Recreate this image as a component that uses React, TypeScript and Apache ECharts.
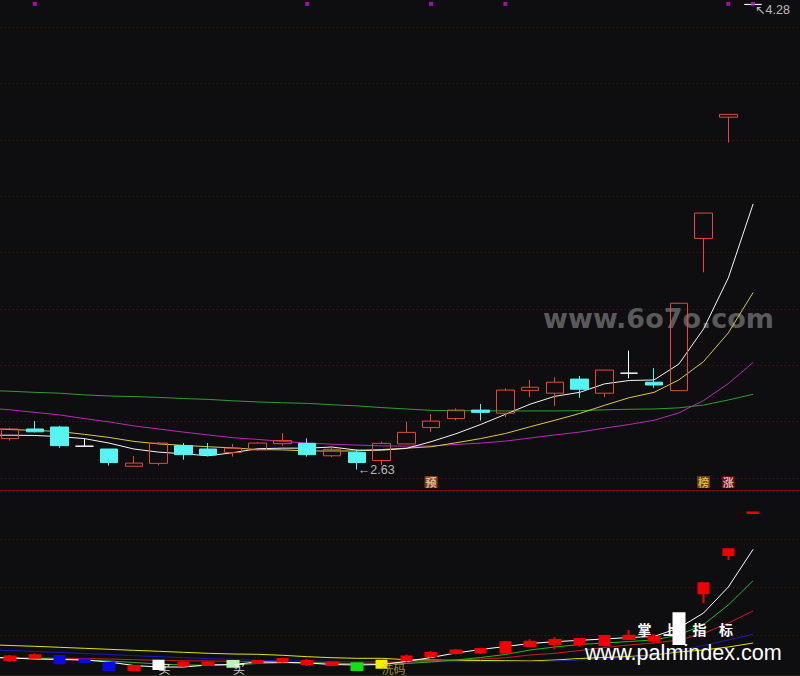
import React, { useEffect, useRef } from 'react';
import * as echarts from 'echarts';

// ---------- categories (trading days, index only) ----------
const DAYS = [
  'D00', 'D01', 'D02', 'D03', 'D04', 'D05', 'D06', 'D07', 'D08', 'D09',
  'D10', 'D11', 'D12', 'D13', 'D14', 'D15', 'D16', 'D17', 'D18', 'D19',
  'D20', 'D21', 'D22', 'D23', 'D24', 'D25', 'D26', 'D27', 'D28', 'D29',
  'D30', 'D31', 'D32', 'D33',
];

// ---------- price panel ----------
// [day, open, close, low, high]
const PRICE_K = [
  [1, 2.740, 2.774, 2.733, 2.778],
  [2, 2.774, 2.764, 2.762, 2.802],
  [3, 2.781, 2.715, 2.707, 2.785],
  [4, 2.713, 2.713, 2.713, 2.740],
  [5, 2.703, 2.655, 2.644, 2.703],
  [6, 2.642, 2.653, 2.642, 2.678],
  [7, 2.652, 2.724, 2.645, 2.728],
  [8, 2.715, 2.683, 2.665, 2.724],
  [9, 2.703, 2.682, 2.677, 2.724],
  [10, 2.691, 2.706, 2.676, 2.721],
  [11, 2.700, 2.724, 2.696, 2.728],
  [12, 2.722, 2.733, 2.714, 2.759],
  [13, 2.723, 2.683, 2.676, 2.741],
  [14, 2.679, 2.702, 2.674, 2.709],
  [15, 2.691, 2.655, 2.630, 2.701],
  [16, 2.662, 2.723, 2.646, 2.729],
  [17, 2.721, 2.762, 2.721, 2.800],
  [18, 2.779, 2.802, 2.764, 2.827],
  [19, 2.811, 2.841, 2.805, 2.847],
  [20, 2.841, 2.833, 2.804, 2.863],
  [21, 2.830, 2.912, 2.816, 2.918],
  [22, 2.911, 2.922, 2.887, 2.948],
  [23, 2.901, 2.940, 2.856, 2.957],
  [24, 2.951, 2.915, 2.885, 2.962],
  [25, 2.901, 2.983, 2.887, 2.983],
  [26, 2.972, 2.972, 2.954, 3.052],
  [27, 2.940, 2.930, 2.920, 2.990],
  [28, 2.910, 3.220, 2.910, 3.220],
  [29, 3.450, 3.540, 3.330, 3.540],
  [30, 3.880, 3.890, 3.790, 3.890],
  [31, 4.280, 4.280, 4.280, 4.280],
];

const MA5 = [2.752, 2.752, 2.751, 2.747, 2.740, 2.724, 2.703, 2.692, 2.686, 2.679, 2.690, 2.704, 2.706, 2.706, 2.710, 2.699, 2.699, 2.705, 2.729, 2.757, 2.790, 2.826, 2.862, 2.890, 2.904, 2.934, 2.946, 2.948, 3.004, 3.129, 3.310, 3.572];
const MA10 = [2.776, 2.772, 2.769, 2.765, 2.755, 2.744, 2.730, 2.721, 2.716, 2.711, 2.707, 2.701, 2.700, 2.696, 2.696, 2.696, 2.701, 2.706, 2.711, 2.725, 2.740, 2.758, 2.782, 2.805, 2.829, 2.858, 2.885, 2.904, 2.948, 3.013, 3.115, 3.258];
const MA20 = [2.849, 2.842, 2.833, 2.824, 2.811, 2.799, 2.785, 2.774, 2.763, 2.753, 2.743, 2.737, 2.730, 2.724, 2.720, 2.717, 2.714, 2.713, 2.714, 2.719, 2.724, 2.731, 2.742, 2.753, 2.763, 2.777, 2.790, 2.805, 2.831, 2.875, 2.935, 3.010];
const MA60 = [2.911, 2.908, 2.904, 2.901, 2.895, 2.891, 2.889, 2.886, 2.882, 2.879, 2.874, 2.870, 2.867, 2.865, 2.860, 2.856, 2.850, 2.845, 2.840, 2.839, 2.839, 2.838, 2.838, 2.838, 2.839, 2.842, 2.844, 2.845, 2.849, 2.859, 2.877, 2.897];

const PRICE_MIN = 2.5576;
const PRICE_MAX = 4.2993;

const TOP_SIGNALS = [2, 13, 18, 21, 30, 31];
const TOP_SIGNAL_PRICE = 4.282;

const TAGS = [
  { day: 18, text: '预' },
  { day: 29, text: '榜' },
  { day: 30, text: '涨' },
];
const TAG_PRICE = 2.586;

const LOW_MARK = { day: 15, price: 2.63, text: '←2.63' };
const HIGH_MARK = { day: 31, price: 4.28, text: '↖4.28' };

// ---------- indicator panel (0..100 units) ----------
// [day, open, close, low, high]
const IND_K = [
  [1, 12.0, 13.8, 10.9, 14.6],
  [2, 13.2, 14.4, 12.9, 15.5],
  [3, 14.1, 10.3, 10.3, 14.1],
  [4, 12.3, 10.9, 10.9, 12.3],
  [5, 10.6, 6.8, 6.8, 10.6],
  [6, 6.8, 8.9, 6.5, 9.4],
  [7, 7.3, 11.6, 7.3, 11.6],
  [8, 9.1, 10.7, 8.5, 11.5],
  [9, 9.4, 10.7, 8.9, 11.5],
  [10, 8.5, 11.5, 8.5, 11.5],
  [11, 10.4, 11.5, 9.9, 12.0],
  [12, 11.2, 12.5, 10.6, 13.2],
  [13, 9.9, 11.5, 8.9, 12.5],
  [14, 9.4, 10.7, 8.9, 11.1],
  [15, 6.8, 10.3, 6.8, 10.3],
  [16, 8.0, 11.6, 8.0, 11.6],
  [17, 12.0, 13.8, 11.1, 14.9],
  [18, 14.1, 15.6, 13.2, 16.7],
  [19, 15.6, 16.9, 14.9, 17.7],
  [20, 15.9, 17.7, 15.1, 18.4],
  [21, 15.8, 21.2, 15.8, 21.2],
  [22, 19.3, 21.5, 18.6, 22.8],
  [23, 20.3, 22.4, 17.6, 23.8],
  [24, 20.3, 22.9, 18.9, 22.9],
  [25, 19.8, 24.5, 18.9, 24.5],
  [26, 22.9, 24.6, 22.9, 27.6],
  [27, 22.0, 24.1, 20.7, 25.5],
  [28, 20.3, 36.3, 20.3, 36.3],
  [29, 46.7, 51.9, 41.5, 51.9],
  [30, 66.7, 69.6, 64.1, 69.6],
  [31, 88.6, 88.8, 88.6, 88.8],
];
// signal kind of some indicator bars
const IND_KIND: Record<number, string> = { 7: 'white', 10: 'pale', 15: 'green', 16: 'yellow', 28: 'white' };

const IND_YELLOW = [20.05, 19.53, 19.11, 18.59, 18.07, 17.55, 17.03, 16.51, 15.99, 15.47, 15.10, 14.95, 14.43, 13.70, 13.18, 12.86, 12.86, 12.14, 11.98, 11.82, 11.72, 11.61, 11.46, 11.98, 12.76, 13.28, 13.80, 14.58, 16.15, 17.19, 18.75, 20.83];
const IND_BLUE = [17.29, 16.93, 16.41, 15.89, 15.36, 14.84, 14.22, 13.70, 13.18, 12.66, 12.34, 11.82, 11.61, 11.46, 11.30, 11.20, 11.20, 11.09, 11.09, 11.09, 11.09, 11.09, 11.09, 11.46, 11.98, 12.50, 13.28, 14.58, 16.93, 19.53, 22.40, 25.36];
const IND_WHITE = [13.54, 13.02, 12.50, 12.24, 11.98, 10.94, 9.11, 8.33, 8.33, 9.38, 9.64, 10.94, 10.78, 10.42, 9.64, 9.38, 9.64, 11.20, 13.28, 15.63, 17.45, 19.01, 20.57, 21.51, 22.24, 22.92, 23.70, 24.22, 28.65, 36.46, 50.00, 69.64];
const IND_GREEN = [13.28, 13.02, 12.76, 12.50, 11.98, 11.46, 10.68, 9.90, 9.38, 9.22, 9.38, 10.16, 10.57, 10.57, 10.42, 9.90, 9.90, 10.16, 10.94, 11.98, 13.28, 14.84, 17.19, 18.75, 20.05, 20.83, 21.61, 22.40, 25.00, 30.47, 40.63, 53.28];
const IND_RED = [13.28, 13.18, 13.02, 12.92, 12.76, 12.50, 12.14, 11.82, 11.61, 11.46, 11.30, 11.09, 10.78, 10.42, 10.26, 10.26, 10.42, 10.94, 11.46, 11.98, 12.50, 13.18, 14.58, 15.47, 16.93, 18.49, 19.79, 20.83, 22.40, 25.78, 31.25, 37.50];

const IND_NOTES = [
  { day: 7, text: '买', kind: 'white' },
  { day: 10, text: '买', kind: 'white' },
  { day: 16, text: '洗码', kind: 'gold' },
];
const NOTE_LEVEL = 7.3;

// ---------- styles ----------
const BG = '#0e0e11';
const UP = '#e24a3c';
const DOWN = '#57f4f4';
const GRID_RED = '#641a1a';
const KIND_COLOR: Record<string, string> = {
  white: '#ffffff',
  pale: '#bdf0bd',
  green: '#14e014',
  yellow: '#f0f000',
  gold: '#cfae3a',
};
const TAG_STYLE: Record<string, { bg: string; fg: string }> = {
  '预': { bg: '#9c4616', fg: '#f6dcb8' },
  '榜': { bg: '#7c4e12', fg: '#ffd24a' },
  '涨': { bg: '#7c0a0a', fg: '#ffe0e0' },
};

export default function App() {
  const ref = useRef<HTMLDivElement>(null);

  useEffect(() => {
    if (!ref.current) return;
    document.body.style.margin = '0';
    document.body.style.background = BG;
    document.documentElement.style.overflow = 'hidden';
    const chart = echarts.init(ref.current, null, { renderer: 'svg', width: 800, height: 676 });

    const splitLine = { show: true, lineStyle: { color: GRID_RED, type: [1, 3], width: 1 } };
    const hiddenAxisParts = {
      axisTick: { show: false },
      axisLabel: { show: false },
    };

    const lineSeries = (data: number[], color: string, xi: number, z = 2) => ({
      type: 'line',
      xAxisIndex: xi,
      yAxisIndex: xi,
      data,
      symbol: 'none',
      showSymbol: false,
      smooth: false,
      silent: true,
      z,
      lineStyle: { color, width: 1 },
    });

    const indData = IND_K.map((k) => {
      const kind = IND_KIND[k[0]];
      if (!kind) return { value: k };
      const c = KIND_COLOR[kind];
      return {
        value: k,
        itemStyle: { color: c, color0: c, borderColor: c, borderColor0: c, borderColorDoji: c },
      };
    });

    const wmChar = (text: string, x: number) => ({
      type: 'text', x, y: 629, z: 100,
      style: { text, fill: '#ffffff', font: 'bold 14px "Noto Sans CJK SC"', align: 'center', verticalAlign: 'middle' },
    });

    const option: any = {
      animation: false,
      backgroundColor: BG,
      tooltip: { show: false },
      grid: [
        { left: -27.16, right: -15.02, top: -1, bottom: 186, containLabel: false, outerBoundsMode: 'none' },
        { left: -27.16, right: -15.02, top: 491, bottom: -7, containLabel: false, outerBoundsMode: 'none' },
      ],
      xAxis: [
        {
          type: 'category', gridIndex: 0, data: DAYS, boundaryGap: true,
          axisLine: { show: true, onZero: false, lineStyle: { color: '#760e0e', width: 1 } },
          splitLine: { show: false },
          ...hiddenAxisParts,
        },
        {
          type: 'category', gridIndex: 1, data: DAYS, boundaryGap: true,
          axisLine: { show: false },
          splitLine: { show: false },
          ...hiddenAxisParts,
        },
      ],
      yAxis: [
        {
          type: 'value', gridIndex: 0, min: PRICE_MIN, max: PRICE_MAX, splitNumber: 8,
          axisLine: { show: false }, splitLine, ...hiddenAxisParts,
        },
        {
          type: 'value', gridIndex: 1, min: 0, max: 100, interval: 25,
          axisLine: { show: false }, splitLine, ...hiddenAxisParts,
        },
      ],
      series: [
        lineSeries(MA60, '#2f9f2f', 0),
        lineSeries(MA20, '#b82cb8', 0),
        lineSeries(MA10, '#dcc84c', 0),
        lineSeries(MA5, '#f4f4f4', 0),
        {
          type: 'candlestick',
          xAxisIndex: 0,
          yAxisIndex: 0,
          data: PRICE_K,
          encode: { x: 0, y: [1, 2, 3, 4] },
          barWidth: 18,
          silent: true,
          z: 3,
          itemStyle: {
            color: 'transparent',
            color0: DOWN,
            borderColor: UP,
            borderColor0: DOWN,
            borderColorDoji: '#ffffff',
            borderWidth: 1,
          },
        },
        {
          type: 'scatter',
          xAxisIndex: 0,
          yAxisIndex: 0,
          data: TOP_SIGNALS.map((d) => [d, TOP_SIGNAL_PRICE]),
          symbol: 'rect',
          symbolSize: 4,
          silent: true,
          z: 5,
          itemStyle: { color: '#cc10cc' },
        },
        {
          type: 'scatter',
          xAxisIndex: 0,
          yAxisIndex: 0,
          data: TAGS.map((t) => ({
            value: [t.day, TAG_PRICE],
            itemStyle: { color: TAG_STYLE[t.text].bg },
            label: { formatter: t.text, color: TAG_STYLE[t.text].fg },
          })),
          symbol: 'rect',
          symbolSize: [13, 12],
          silent: true,
          z: 5,
          label: {
            show: true,
            position: 'inside',
            fontSize: 11,
            fontWeight: 'bold',
            fontFamily: '"Noto Sans CJK SC", sans-serif',
          },
        },
        {
          type: 'scatter',
          xAxisIndex: 0,
          yAxisIndex: 0,
          data: [
            { value: [LOW_MARK.day, LOW_MARK.price], label: { formatter: LOW_MARK.text, offset: [1, 0] } },
            { value: [HIGH_MARK.day, HIGH_MARK.price], label: { formatter: HIGH_MARK.text, offset: [2, 6] } },
          ],
          symbol: 'circle',
          symbolSize: 0,
          silent: true,
          z: 6,
          itemStyle: { color: 'transparent' },
          label: {
            show: true,
            position: 'right',
            distance: 0,
            fontSize: 12.5,
            color: '#e6e6e6',
            fontFamily: '"Liberation Sans", "DejaVu Sans", sans-serif',
          },
        },
        // indicator panel
        lineSeries(IND_YELLOW, '#e6e600', 1),
        lineSeries(IND_BLUE, '#1a1ab8', 1),
        lineSeries(IND_RED, '#cc1e1e', 1),
        lineSeries(IND_GREEN, '#24b824', 1),
        lineSeries(IND_WHITE, '#ffffff', 1),
        {
          type: 'candlestick',
          xAxisIndex: 1,
          yAxisIndex: 1,
          data: indData,
          encode: { x: 0, y: [1, 2, 3, 4] },
          barWidth: 11,
          silent: true,
          z: 3,
          itemStyle: {
            color: '#f20000',
            color0: '#0a0ae6',
            borderColor: '#f20000',
            borderColor0: '#0a0ae6',
            borderColorDoji: '#f20000',
            borderWidth: 2,
          },
        },
        {
          type: 'scatter',
          xAxisIndex: 1,
          yAxisIndex: 1,
          data: IND_NOTES.map((n) => ({
            value: [n.day, NOTE_LEVEL],
            label: { formatter: n.text, color: KIND_COLOR[n.kind] },
          })),
          symbolSize: 0,
          silent: true,
          z: 4,
          itemStyle: { color: 'transparent' },
          label: {
            show: true,
            position: 'right',
            distance: 0,
            fontSize: 12,
            lineHeight: 12,
            fontFamily: '"Noto Sans CJK SC", sans-serif',
          },
        },
      ],
      graphic: [
        {
          type: 'text', x: 543, y: 318, z: 1,
          style: { text: 'www.6o7o.com', fill: '#5a5a5a', font: 'bold 27px "DejaVu Sans"', align: 'left', verticalAlign: 'middle' },
        },
        wmChar('掌', 644.5),
        wmChar('上', 670),
        wmChar('指', 699.5),
        wmChar('标', 726),
        {
          type: 'text', x: 585, y: 652.5, z: 100,
          style: { text: 'www.palmindex.com', fill: '#ffffff', font: '21.6px "Liberation Sans"', align: 'left', verticalAlign: 'middle' },
        },
        {
          type: 'line', z: 100,
          shape: { x1: 0, y1: 675.5, x2: 800, y2: 675.5 },
          style: { stroke: '#5a0a0a', lineWidth: 1 },
        },
      ],
    };

    chart.setOption(option);
    return () => chart.dispose();
  }, []);

  return (
    <div
      ref={ref}
      style={{ width: 800, height: 676, background: BG, overflow: 'hidden' }}
    />
  );
}
